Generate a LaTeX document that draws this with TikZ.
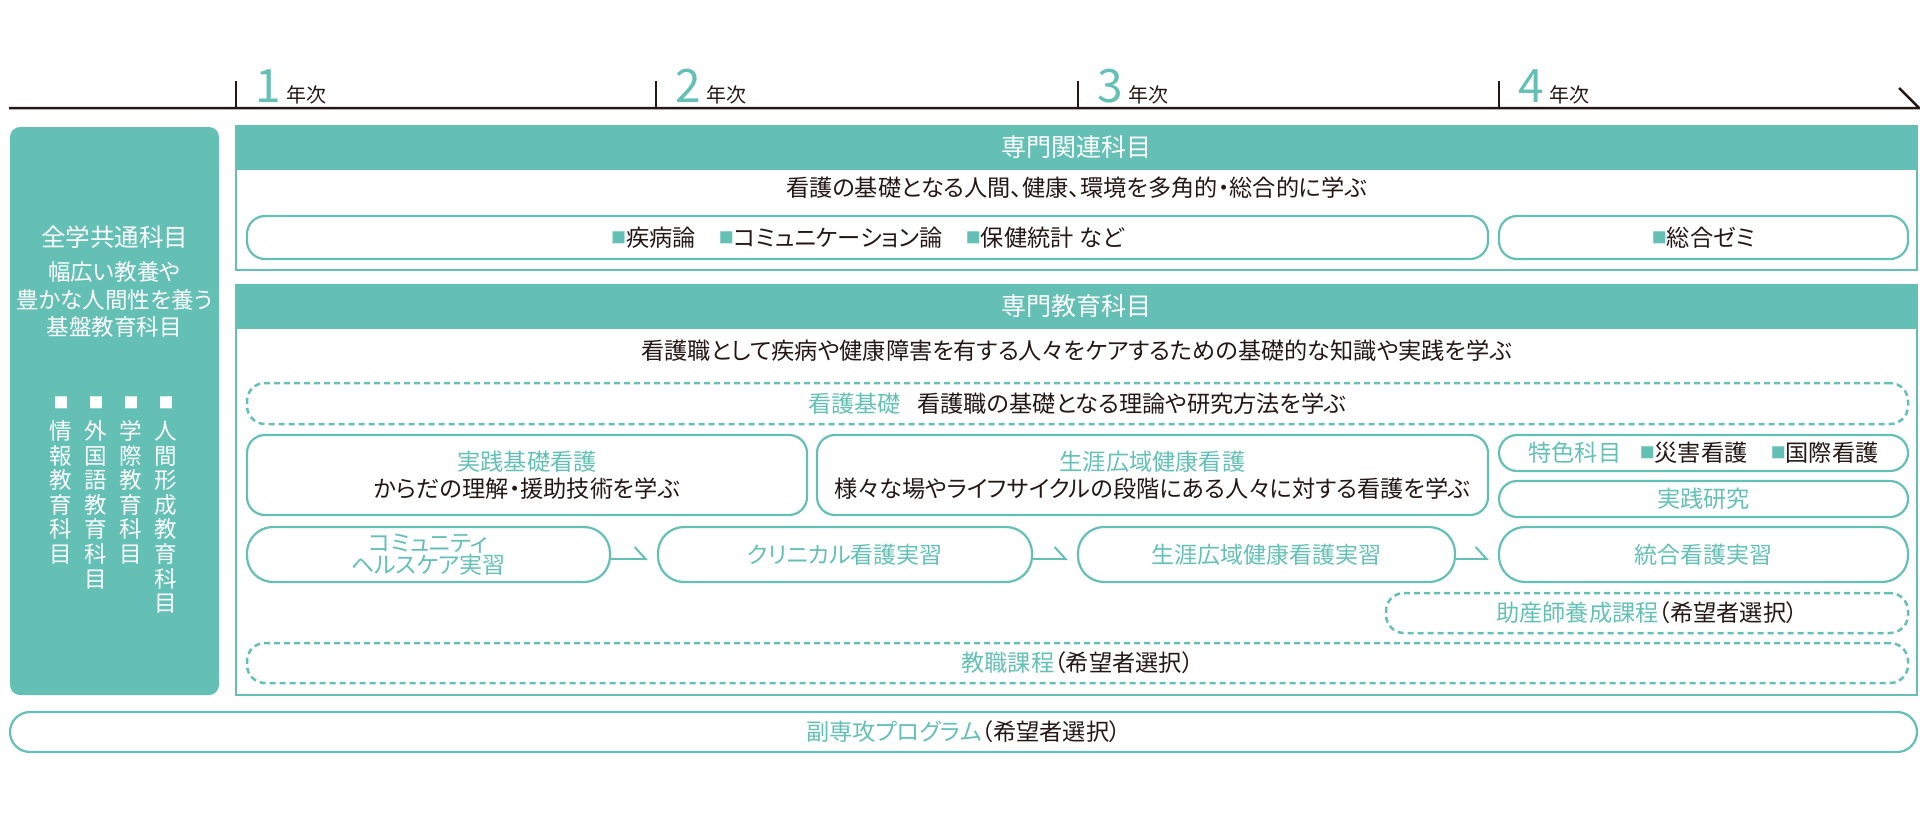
\documentclass[tikz,border=0pt]{standalone}
\usepackage{fontspec}
\setmainfont{Noto Sans CJK JP}[RawFeature=+palt]
\usetikzlibrary{arrows.meta}
\definecolor{tl}{RGB}{100,192,181}
\definecolor{ink}{RGB}{35,24,21}
\newcommand{\fsz}[2]{\fontsize{#1}{#2}\selectfont}
\newcommand{\sqm}{\raisebox{3pt}{\color{tl}\fsz{15}{15}■}}
\begin{document}
\begin{tikzpicture}[x=1pt, y=-1pt,
  frame/.style={draw=tl, line width=2pt, inner sep=0pt},
  band/.style={fill=tl, draw=tl, line width=2pt, inner sep=0pt, text=white, font=\fsz{25}{27}},
  lead/.style={text=ink, inner sep=0pt, font=\fsz{23.2}{25}},
  cbox/.style={draw=tl, line width=2.2pt, rounded corners=18pt, inner sep=0pt, text=ink, align=center, font=\fsz{23.2}{27}},
  dbox/.style={cbox, line width=2.5pt, dash pattern=on 6pt off 4pt},
  pill/.style={cbox, rounded corners=26pt, text=tl, font=\fsz{23}{21}},
  wlabel/.style={text=white, inner sep=0pt, align=center, font=\fsz{22.5}{27.5}},
  col/.style={text=white, inner sep=0pt, align=center, anchor=north, font=\fsz{22.5}{24.6}},
  yrnum/.style={text=tl, inner sep=0pt, anchor=base west, font=\fsz{46}{46}},
  yrtxt/.style={text=ink, inner sep=0pt, anchor=base west, font=\fsz{20}{20}},
  flow/.style={draw=tl, line width=2pt, -{Straight Barb[left, length=11pt, width=24pt]}, shorten >=9pt}]
\useasboundingbox (0,0) rectangle (1920,817);
\draw[ink, line width=2.5pt] (9,108) -- (1919,108) -- (1899,88);
\foreach \x/\yr [count=\i] in {236/1, 656/2, 1078/3, 1499/4} {
  \draw[ink, line width=2pt] (\x,81) -- (\x,108);
  \node[yrnum] (yr\i) at (\x+19,102) {\yr};
  \node[yrtxt] (yrt\i) at ([xshift=5pt]yr\i.base east) {年次};
}
\node[fill=tl, rounded corners=10pt, minimum width=209pt, minimum height=568pt, inner sep=0pt] (common) at (114.5,411) {};
\node[wlabel, font=\fsz{24.5}{26}] (commonhd) at (114.5,237) {全学共通科目};
\node[wlabel] (commonsub) at (114.5,299.5) {幅広い教養や\\豊かな人間性を養う\\基盤教育科目};
\node[col] (colinfo) at (61,397) {{\fsz{15}{24.6}■}\\[6pt]情\\報\\教\\育\\科\\目};
\node[col] (collang) at (96,397) {{\fsz{15}{24.6}■}\\[6pt]外\\国\\語\\教\\育\\科\\目};
\node[col] (colinter) at (131,397) {{\fsz{15}{24.6}■}\\[6pt]学\\際\\教\\育\\科\\目};
\node[col] (colhuman) at (166,397) {{\fsz{15}{24.6}■}\\[6pt]人\\間\\形\\成\\教\\育\\科\\目};
\node[frame, minimum width=1681pt, minimum height=144pt] (rel) at (1076.5,198) {};
\node[band, minimum width=1681pt, minimum height=43pt] (relhd) at (1076.5,147.5) {専門関連科目};
\node[lead] (relsub) at (1076.5,188) {看護の基礎となる人間、健康、環境を多角的・総合的に学ぶ};
\node[cbox, minimum width=1241pt, minimum height=43pt] (relsubj) at (867.5,237.5) {\sqm 疾病論\hspace{1em}\sqm コミュニケーション論\hspace{1em}\sqm 保健統計\hspace{0.25em}など};
\node[cbox, minimum width=409pt, minimum height=43pt] (seminar) at (1703.5,237.5) {\sqm 総合ゼミ};
\node[frame, minimum width=1681pt, minimum height=410pt] (spec) at (1076.5,490) {};
\node[band, minimum width=1681pt, minimum height=43pt] (spechd) at (1076.5,306.5) {専門教育科目};
\node[lead] (specsub) at (1076.5,351) {看護職として疾病や健康障害を有する人々をケアするための基礎的な知識や実践を学ぶ};
\node[dbox, minimum width=1661pt, minimum height=41pt] (basic) at (1077.5,403.5) {{\color{tl}看護基礎}\hspace{0.7em}看護職の基礎となる理論や研究方法を学ぶ};
\node[cbox, minimum width=560pt, minimum height=80pt] (prac) at (527,475) {{\color{tl}実践基礎看護}\\からだの理解・援助技術を学ぶ};
\node[cbox, minimum width=671pt, minimum height=80pt] (life) at (1152.5,475) {{\color{tl}生涯広域健康看護}\\様々な場やライフサイクルの段階にある人々に対する看護を学ぶ};
\node[cbox, minimum width=409pt, minimum height=36pt] (feat) at (1703.5,453) {{\color{tl}特色科目}\hspace{0.8em}\sqm 災害看護\hspace{1em}\sqm 国際看護};
\node[cbox, minimum width=409pt, minimum height=36pt, text=tl] (res) at (1703.5,499) {実践研究};
\node[pill, minimum width=363pt, minimum height=55pt] (comm) at (428.5,554.5) {コミュニティ\\ヘルスケア実習};
\node[pill, minimum width=374pt, minimum height=55pt] (clin) at (845,554.5) {クリニカル看護実習};
\node[pill, minimum width=377pt, minimum height=55pt] (lifep) at (1266.5,554.5) {生涯広域健康看護実習};
\node[pill, minimum width=409pt, minimum height=55pt] (integ) at (1703.5,554.5) {統合看護実習};
\draw[flow] ([yshift=-4.5pt]comm.east) -- ([yshift=-4.5pt]clin.west);
\draw[flow] ([yshift=-4.5pt]clin.east) -- ([yshift=-4.5pt]lifep.west);
\draw[flow] ([yshift=-4.5pt]lifep.east) -- ([yshift=-4.5pt]integ.west);
\node[dbox, minimum width=522pt, minimum height=40pt, text=tl] (midw) at (1647,613) {助産師養成課程{\color{ink}（希望者選択）}};
\node[dbox, minimum width=1661pt, minimum height=40pt, text=tl] (teach) at (1077.5,663) {教職課程{\color{ink}（希望者選択）}};
\node[cbox, minimum width=1907pt, minimum height=40pt, text=tl, rounded corners=20pt] (minor) at (963.5,732) {副専攻プログラム{\color{ink}（希望者選択）}};
\end{tikzpicture}
\end{document}
